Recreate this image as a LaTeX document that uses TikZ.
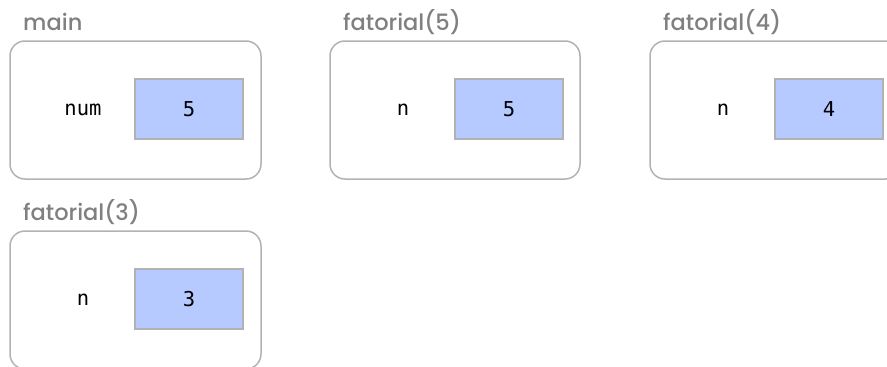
\documentclass[tikz,border=0pt]{standalone}
\usepackage{fontspec}
\setmainfont{Poppins}
\newfontfamily\titlef{Poppins Medium}
\newfontfamily\monof{DejaVu Sans Mono}
\begin{document}
\begin{tikzpicture}[x=1pt,y=-1pt,
  frame/.style={draw=black!30,line width=1.5pt,rounded corners=15pt},
  valbox/.style={draw=black!30,line width=1.5pt,fill={rgb,255:red,182;green,202;blue,255},minimum width=108pt,minimum height=60pt,inner sep=0pt,font=\monof\fontsize{20.5}{20.5}\selectfont},
  varname/.style={font=\monof\fontsize{20.5}{20.5}\selectfont,inner sep=0pt},
  title/.style={anchor=base west,font=\titlef\fontsize{22.5}{22.5}\selectfont,text=black!50,inner sep=0pt}]
\useasboundingbox (0,0) rectangle (887,367);
% main
\draw[frame] (10,41) rectangle (261,179);
\node[title] (t1) at (23,30) {main};
\node[varname] (v1) at (83,110) {num};
\node[valbox] (b1) at (189,109) {5};
% fatorial(5)
\draw[frame] (330,41) rectangle (580,179);
\node[title] (t2) at (343,30) {fatorial(5)};
\node[varname] (v2) at (403,110) {n};
\node[valbox] (b2) at (509,109) {5};
% fatorial(4)
\draw[frame] (650,41) rectangle (901,179);
\node[title] (t3) at (663,30) {fatorial(4)};
\node[varname] (v3) at (723,110) {n};
\node[valbox] (b3) at (829,109) {4};
% fatorial(3)
\draw[frame] (10,231) rectangle (261,369);
\node[title] (t4) at (23,220) {fatorial(3)};
\node[varname] (v4) at (83,300) {n};
\node[valbox] (b4) at (189,299) {3};
\end{tikzpicture}
\end{document}
